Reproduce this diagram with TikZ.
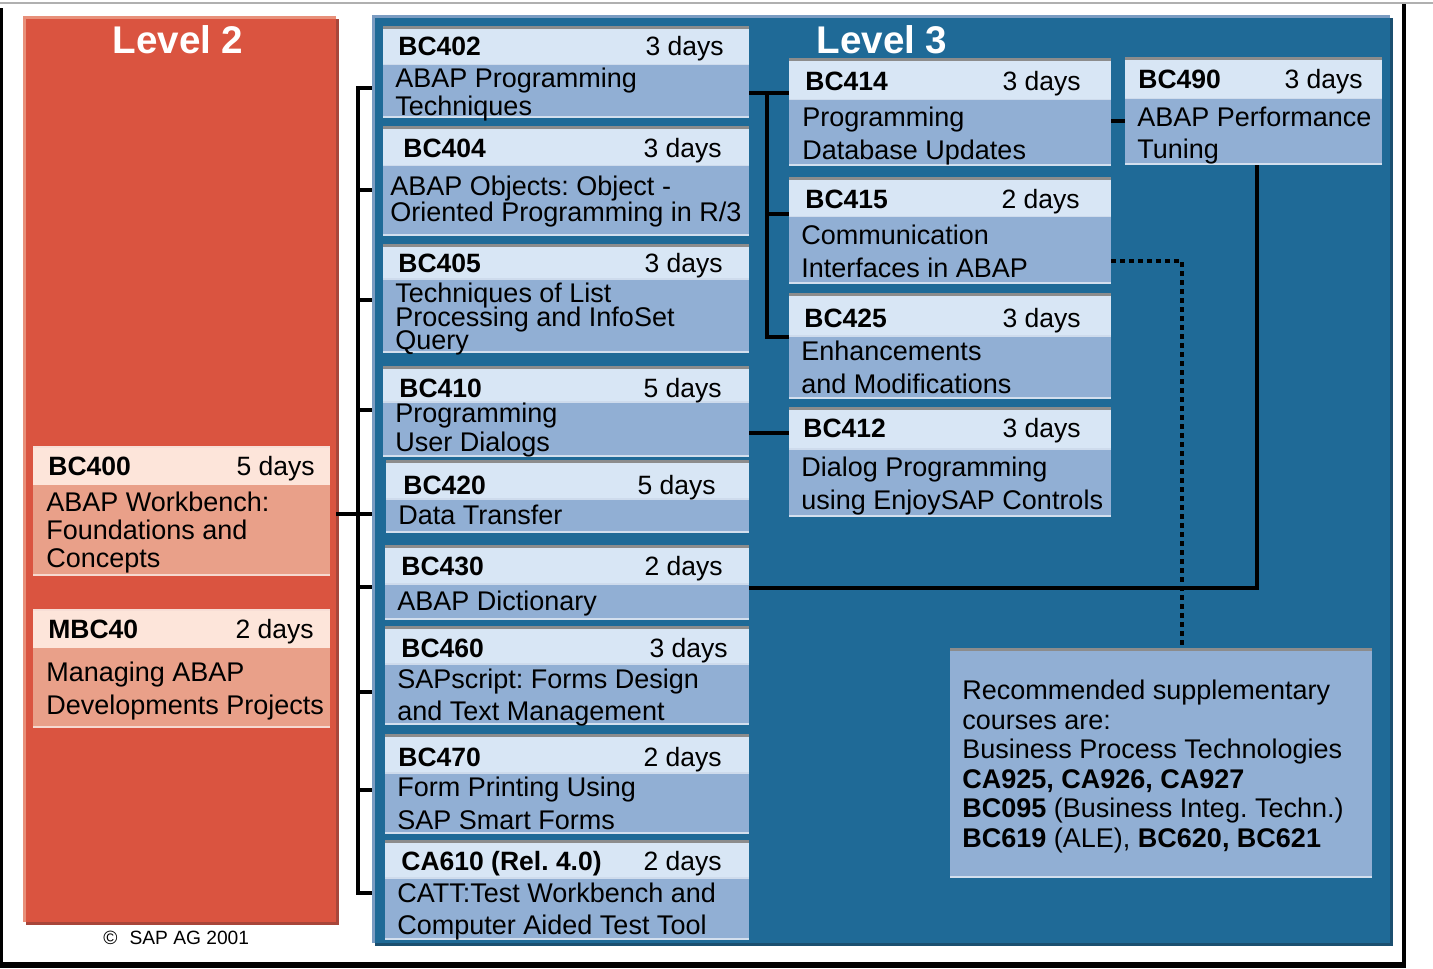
\documentclass[tikz,border=0pt]{standalone}
\usepackage{fontspec}
\setmainfont{Liberation Sans}
\usetikzlibrary{fit}
\frenchspacing
\newcommand\tightlines{\lineskiplimit=-20pt\relax}
\definecolor{redmain}{HTML}{DA5440}
\definecolor{redlite}{HTML}{E8907A}
\definecolor{redshade}{HTML}{A8463A}
\definecolor{rdhd}{HTML}{FDE5DA}
\definecolor{rdbd}{HTML}{E9A089}
\definecolor{bluemain}{HTML}{1F6A97}
\definecolor{bluelite}{HTML}{7B9CC2}
\definecolor{blueshade}{HTML}{1B4F70}
\definecolor{blhd}{HTML}{D8E6F5}
\definecolor{blbd}{HTML}{91AFD4}
\definecolor{bltop}{HTML}{8C8C8C}
\definecolor{framegray}{HTML}{B0B0B0}
\tikzset{
  codetxt/.style = {anchor=base west, yshift=-4.75pt, inner sep=0pt,
                    font=\fontsize{13.25}{15}\selectfont\bfseries},
  daytxt/.style  = {anchor=base east, yshift=-4.75pt, inner sep=0pt,
                    font=\fontsize{13.25}{15}\selectfont},
  bodytxt/.style = {anchor=north west, inner sep=0pt, align=left,
                    font=\fontsize{13.5}{#1}\selectfont\tightlines},
  bodytxt/.default = 16.5,
  leveltxt/.style = {text=white, inner sep=0pt,
                     font=\fontsize{19.3}{22}\selectfont\bfseries},
  link/.style    = {line width=2pt},
  dotlink/.style = {line width=2pt, dash pattern=on 2.25pt off 2.25pt},
}
\begin{document}
\begin{tikzpicture}[x=0.5pt, y=-0.5pt]
\useasboundingbox (0,0) rectangle (1433,968);
% ---- page frame ----
\draw[framegray, line width=1pt] (0,3) -- (1433,3);
\fill[black] (0,8) rectangle (3,968);
\fill[black] (1402,4) rectangle (1406,968);
\fill[black] (0,962) rectangle (1406,968);
% ---- level 2 panel ----
\fill[redshade] (26,19) rectangle (339,925);
\fill[redlite] (23,16) rectangle (336,922);
\fill[redmain] (26,19) rectangle (336,922);
\node[fit={(23,16) (336,922)}, inner sep=0pt] (lvltwo) {};
\node[leveltxt] (lvltwo-t) at (178,40) {Level 2};
\node[anchor=west, inner sep=0pt, font=\fontsize{9.6}{11}\selectfont]
     (copy) at (103,938) {©\hspace{6pt}SAP AG 2001};
% ---- level 3 panel ----
\fill[blueshade] (375,18) rectangle (1393,946);
\fill[bluelite] (372,15) rectangle (1390,943);
\fill[bluemain] (375,18) rectangle (1390,943);
\node[fit={(372,15) (1390,943)}, inner sep=0pt] (lvlthree) {};
\node[leveltxt] (lvlthree-t) at (882,40) {Level 3};
% ---- course boxes ----
\foreach \id/\xa/\xb/\ya/\ym/\yb in {bc402/383/749/26/64/118,
    bc404/383/749/126/165/236, bc405/383/749/244/278/353,
    bc410/383/749/366/401/457, bc420/386/749/460/498/533,
    bc430/385/749/545/583/620, bc460/385/749/626/663/725,
    bc470/385/749/734/772/834, ca610/385/749/840/877/940,
    bc414/789/1111/58/99/166, bc415/789/1111/177/216/284,
    bc425/789/1111/293/335/399, bc412/789/1111/407/448/517,
    bc490/1125/1382/57/98/165}{
  \fill[blhd] (\xa,\ya) rectangle (\xb,\ym);
  \fill[blbd] (\xa,\ym) rectangle (\xb,\yb);
  \fill[bltop] (\xa,\ya) rectangle (\xb,\ya+3);
  \fill[white!55!blbd] (\xa,\ym) rectangle (\xb,\ym+1.5);
  \fill[white!60!blbd] (\xa,\yb-2) rectangle (\xb,\yb);
  \node[fit={(\xa,\ya) (\xb,\yb)}, inner sep=0pt] (\id) {};
}
\foreach \id/\xa/\xb/\ya/\ym/\yb in {bc400/33/330/446/485/576,
    mbc40/33/330/609/648/728}{
  \fill[rdhd] (\xa,\ya) rectangle (\xb,\ym);
  \fill[rdbd] (\xa,\ym) rectangle (\xb,\yb);
  \fill[white!65!rdbd] (\xa,\ya) rectangle (\xb,\ya+2);
  \fill[white!60!rdbd] (\xa,\yb-2) rectangle (\xb,\yb);
  \node[fit={(\xa,\ya) (\xb,\yb)}, inner sep=0pt] (\id) {};
}
% ---- supplementary box ----
\fill[blbd] (950,648) rectangle (1372,878);
\fill[bltop] (950,648) rectangle (1372,650.5);
\fill[white!60!blbd] (950,876) rectangle (1372,878);
\node[fit={(950,648) (1372,878)}, inner sep=0pt] (supp) {};
% ---- headers ----
\foreach \id/\code/\days/\xn/\xd/\yh in {bc402/BC402/3 days/398/724/46,
    bc404/BC404/3 days/403/722/148, bc405/BC405/3 days/398/723/263,
    bc410/BC410/5 days/399/722/388, bc420/BC420/5 days/403/716/485,
    bc430/BC430/2 days/401/723/566, bc460/BC460/3 days/401/728/648,
    bc470/BC470/2 days/398/722/757, ca610/{CA610 (Rel. 4.0)}/2 days/401/722/861,
    bc414/BC414/3 days/805/1081/81, bc415/BC415/2 days/805/1080/199,
    bc425/BC425/3 days/804/1081/318, bc412/BC412/3 days/803/1081/428,
    bc490/BC490/3 days/1138/1363/79, bc400/BC400/5 days/48/315/466,
    mbc40/MBC40/2 days/48/314/629}{
  \node[codetxt] (\id-c) at (\xn,\yh) {\code};
  \node[daytxt] (\id-d) at (\xd,\yh) {\days};
}
% ---- descriptions ----
\node[bodytxt=14] (bc402-t) at (395,68) {ABAP Programming\\Techniques};
\node[bodytxt=13] (bc404-t) at (390,176)
     {ABAP Objects: Object -\\Oriented Programming in R/3};
\node[bodytxt=11.75] (bc405-t) at (395,283)
     {Techniques of List\\Processing and InfoSet\\Query};
\node[bodytxt=14.5] (bc410-t) at (395,403) {Programming\\User Dialogs};
\node[bodytxt] (bc420-t) at (398,505) {Data Transfer};
\node[bodytxt] (bc430-t) at (397,591) {ABAP Dictionary};
\node[bodytxt=16] (bc460-t) at (397,669)
     {SAPscript: Forms Design\\and Text Management};
\node[bodytxt] (bc470-t) at (397,777) {Form Printing Using\\SAP Smart Forms};
\node[bodytxt=16] (ca610-t) at (397,883)
     {CATT:Test Workbench and\\Computer Aided Test Tool};
\node[bodytxt] (bc414-t) at (802,107) {Programming\\Database Updates};
\node[bodytxt] (bc415-t) at (801,225) {Communication\\Interfaces in ABAP};
\node[bodytxt] (bc425-t) at (801,341) {Enhancements\\and Modifications};
\node[bodytxt] (bc412-t) at (801,457)
     {Dialog Programming\\using EnjoySAP Controls};
\node[bodytxt=16] (bc490-t) at (1137,107) {ABAP Performance\\Tuning};
\node[bodytxt=14] (bc400-t) at (46,492)
     {ABAP Workbench:\\Foundations and\\Concepts};
\node[bodytxt] (mbc40-t) at (46,662) {Managing ABAP\\Developments Projects};
\node[bodytxt=14.75] (supp-t) at (962,680)
     {Recommended supplementary\\courses are:\\Business Process Technologies\\
      \textbf{CA925, CA926, CA927}\\\textbf{BC095} (Business Integ. Techn.)\\
      \textbf{BC619} (ALE), \textbf{BC620, BC621}};
% ---- level 2 to level 3 bracket ----
\coordinate (brtop) at (358,88);
\coordinate (brbot) at (358,893);
\draw[link] (lvlthree.west |- brtop) -- (brtop) -- (brbot)
            -- (lvlthree.west |- brbot);
\foreach \y in {190,300,410,587,692,790}
  \draw[link] (brtop |- 0,\y) -- (lvlthree.west |- 0,\y);
\draw[link] (lvltwo.east |- 0,514) -- (lvlthree.west |- 0,514);
% ---- level 3 links ----
\coordinate (mj) at (767,93);
\draw[link] (bc402.east |- mj) -- (bc414.west |- mj);
\draw[link] (mj) -- (mj |- 0,337) -- (bc425.west |- 0,337);
\draw[link] (mj |- 0,214) -- (bc415.west |- 0,214);
\draw[link] (bc410.east |- 0,433) -- (bc412.west |- 0,433);
\draw[link] (bc414.east |- 0,121) -- (bc490.west |- 0,121);
\coordinate (rj) at (1257,588);
\draw[link] (bc430.east |- rj) -- (rj) -- (bc490.south -| rj);
\coordinate (dj) at (1182,261);
\draw[dotlink] (bc415.east |- dj) -- (dj) -- (supp.north -| dj);
\end{tikzpicture}
\end{document}
